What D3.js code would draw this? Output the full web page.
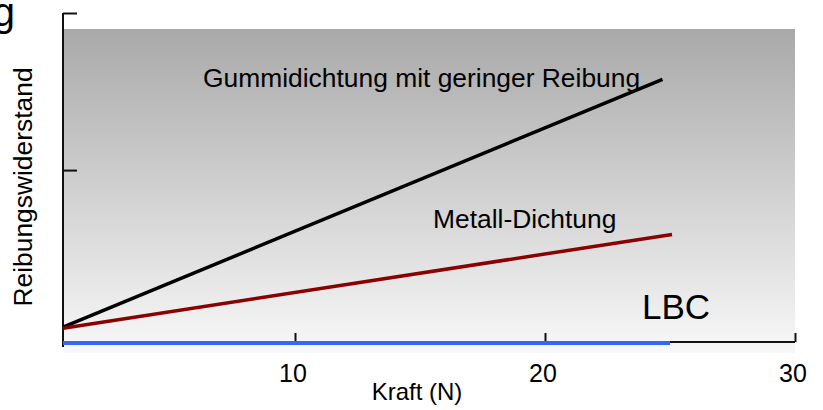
<!DOCTYPE html>
<html><head><meta charset="utf-8">
<script src="https://cdn.jsdelivr.net/npm/d3@7"></script>
<style>body{margin:0;background:#fff}svg{display:block;font-family:"Liberation Sans",Arial,sans-serif}</style>
</head><body>
<svg id="c" width="823" height="410"></svg>
<script>
// Data
const xTicks = [10, 20, 30];
const yTicks = [5.24, 10];
const seriesNames = ["Gummidichtung mit geringer Reibung", "Metall-Dichtung", "LBC"];
const seriesColors = ["#000000", "#8b0000", "#3366ff"];
const gummiX = [0.72, 24.7];
const gummiY = [0.48, 7.99];
const metallX = [0.72, 25.08];
const metallY = [0.45, 3.29];
const lbcX = [0.72, 25.0];
const lbcY = [0.0, 0.0];
const xLabel = "Kraft (N)";
const yLabel = "Reibungswiderstand";

const svg = d3.select("#c");
const x = d3.scaleLinear().domain([0.72, 30]).range([63, 795]);
const y = d3.scaleLinear().domain([0, 10]).range([343, 13]);

// gradient background
const defs = svg.append("defs");
const g = defs.append("linearGradient").attr("id","bg").attr("x1",0).attr("y1",0).attr("x2",0).attr("y2",1);
g.append("stop").attr("offset","0%").attr("stop-color","#a9a9a9");
g.append("stop").attr("offset","100%").attr("stop-color","#f8f8f8");
svg.append("rect").attr("x", x(0.72)).attr("y", 29).attr("width", x(30)-x(0.72)).attr("height", 353-29).attr("fill","url(#bg)");

// axes
const xAxis = d3.axisTop(x).tickValues(xTicks).tickSize(9).tickFormat("");
const xg = svg.append("g").attr("transform","translate(0,342)").call(xAxis);
xg.select(".domain").attr("d", `M${x(0.72)},0H${x(30)}`).attr("stroke","#111").attr("stroke-width",2);
xg.selectAll(".tick line").attr("stroke","#111").attr("stroke-width",2);

const yAxis = d3.axisRight(y).tickValues(yTicks).tickSize(14).tickFormat("");
const yg = svg.append("g").attr("transform","translate(63,0)").call(yAxis);
yg.select(".domain").attr("d", `M0,${y(10)}V347`).attr("stroke","#111").attr("stroke-width",2);
yg.selectAll(".tick line").attr("stroke","#111").attr("stroke-width",2);

// tick labels
svg.selectAll(".xl").data(xTicks).enter().append("text")
  .attr("x", d => x(d) - 2).attr("y", 382).attr("text-anchor","middle")
  .attr("font-size", 25).attr("fill","#000").text(d => d);

// lines
const line = d3.line().x(d => x(d[0])).y(d => y(d[1]));
const series = [
  {x: gummiX, y: gummiY, w: 3.5},
  {x: metallX, y: metallY, w: 3.5},
  {x: lbcX, y: lbcY, w: 4}
];
series.forEach((s, i) => {
  svg.append("path").datum(d3.zip(s.x, s.y)).attr("d", line)
    .attr("fill","none").attr("stroke", seriesColors[i]).attr("stroke-width", s.w);
});

// labels
svg.append("text").attr("x", 203).attr("y", 87).attr("font-size", 26.4).text(seriesNames[0]);
svg.append("text").attr("x", 433).attr("y", 228).attr("font-size", 26.4).text(seriesNames[1]);
svg.append("text").attr("x", 642).attr("y", 319).attr("font-size", 35).text(seriesNames[2]);
svg.append("text").attr("x", 417).attr("y", 400).attr("text-anchor","middle").attr("font-size", 24).text(xLabel);
svg.append("text").attr("transform","translate(32,187) rotate(-90)").attr("text-anchor","middle").attr("font-size", 26.4).text(yLabel);
svg.append("text").attr("x", 15).attr("y", 26).attr("text-anchor","end").attr("font-size", 40).text("g");
</script>
</body></html>
